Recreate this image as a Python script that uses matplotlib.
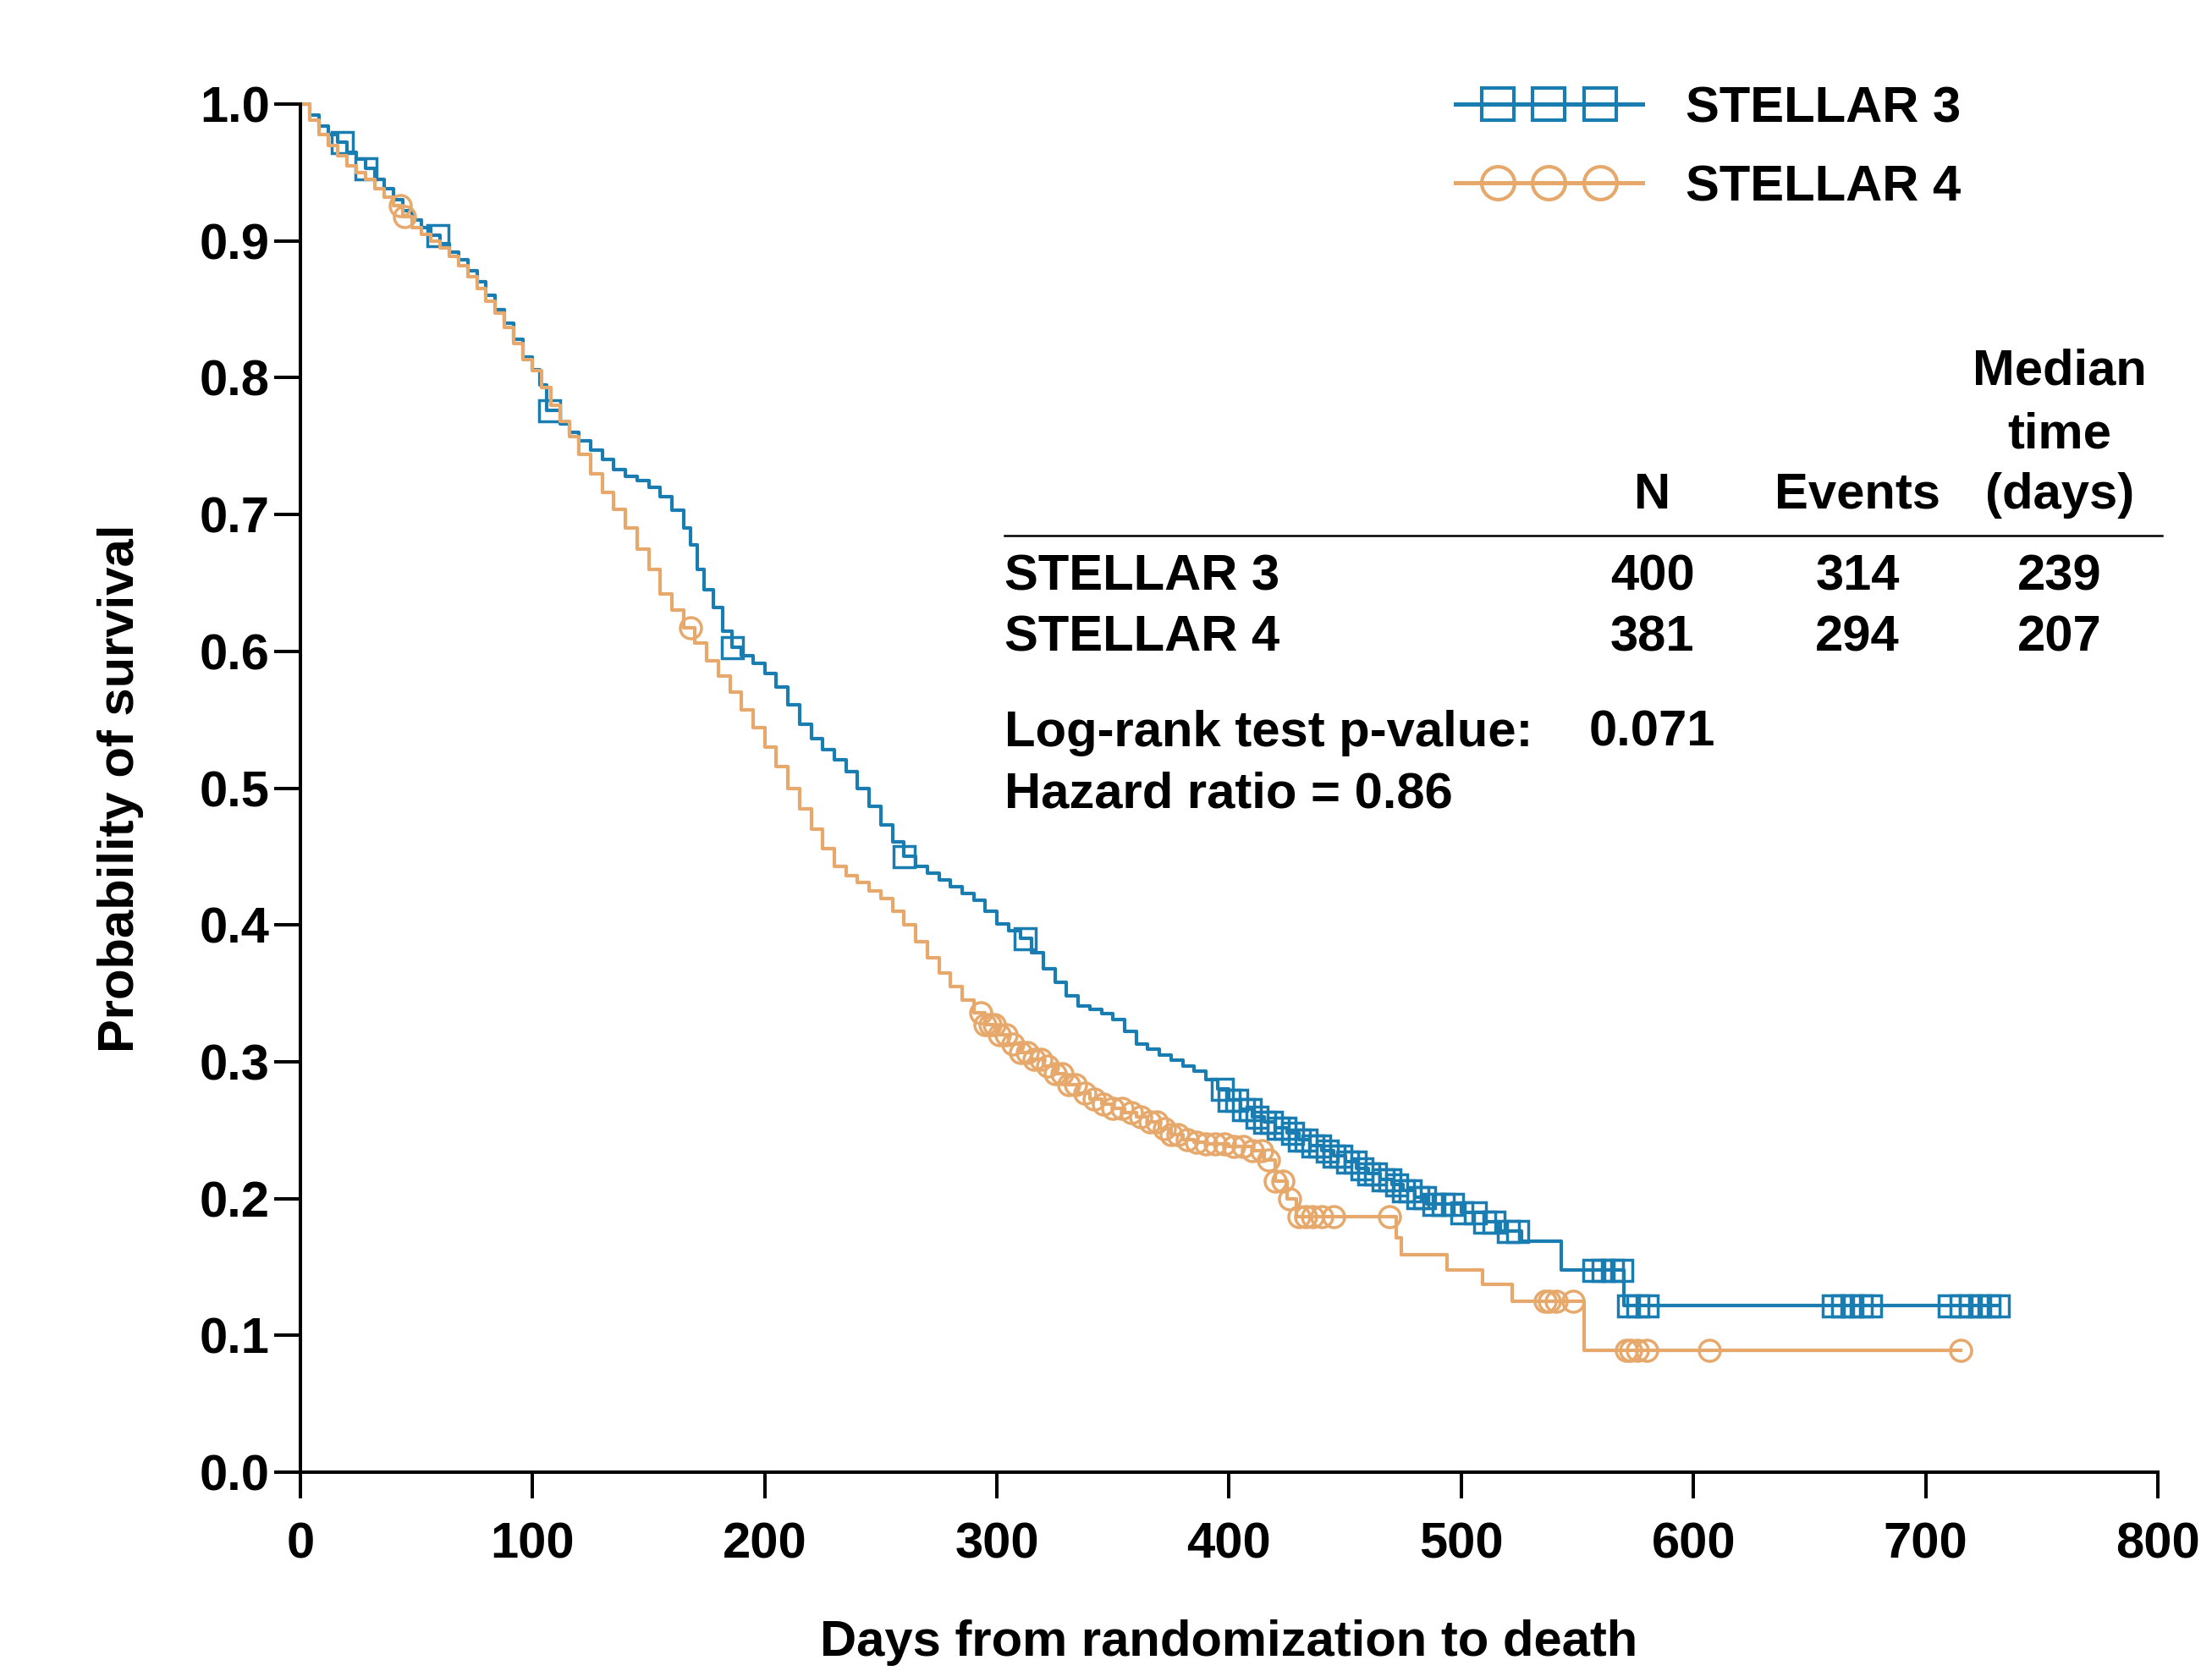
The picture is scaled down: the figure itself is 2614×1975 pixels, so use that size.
import numpy as np
import matplotlib
matplotlib.use("Agg")
import matplotlib.pyplot as plt
from matplotlib.lines import Line2D
from matplotlib.legend_handler import HandlerLine2D, HandlerTuple

plt.rcParams['font.family'] = ['Liberation Sans', 'DejaVu Sans']
plt.rcParams['font.weight'] = 'bold'
plt.rcParams['axes.labelweight'] = 'bold'

# groups and colours
groups = ["STELLAR 3", "STELLAR 4"]
colors = ["#1a7db2", "#e6a86b"]
markers = ["s", "o"]

# Kaplan-Meier steps (days, survival)
s3_days = [0, 4, 8, 12, 16, 20, 24, 28, 32, 36,
           40, 44, 48, 52, 56, 60, 64, 68, 72, 76,
           80, 84, 88, 92, 96, 100, 103, 106, 112, 116,
           120, 125, 130, 135, 140, 145, 150, 155, 160, 165,
           168, 171, 174, 178, 182, 186, 190, 195, 200, 205,
           210, 215, 220, 225, 230, 235, 240, 245, 250, 255,
           260, 265, 270, 275, 280, 285, 290, 295, 300, 305,
           310, 315, 320, 325, 330, 335, 340, 345, 350, 355,
           360, 365, 370, 375, 380, 385, 390, 395, 400, 405,
           410, 415, 420, 425, 430, 435, 440, 445, 450, 455,
           460, 465, 470, 475, 480, 485, 500, 510, 517, 526,
           543, 570]
s3_surv = [1.0, 0.992, 0.984, 0.978, 0.972, 0.965, 0.960, 0.953, 0.945, 0.938,
           0.930, 0.922, 0.915, 0.910, 0.904, 0.898, 0.892, 0.886, 0.878, 0.870,
           0.860, 0.850, 0.840, 0.828, 0.815, 0.806, 0.795, 0.776, 0.766, 0.760,
           0.754, 0.747, 0.740, 0.733, 0.728, 0.725, 0.720, 0.713, 0.703, 0.690,
           0.678, 0.660, 0.645, 0.632, 0.615, 0.603, 0.597, 0.591, 0.584, 0.574,
           0.561, 0.547, 0.536, 0.528, 0.521, 0.512, 0.500, 0.487, 0.473, 0.461,
           0.450, 0.443, 0.438, 0.433, 0.428, 0.423, 0.418, 0.410, 0.401, 0.396,
           0.390, 0.380, 0.368, 0.358, 0.348, 0.341, 0.338, 0.335, 0.331, 0.322,
           0.313, 0.309, 0.305, 0.301, 0.297, 0.293, 0.287, 0.280, 0.272, 0.265,
           0.260, 0.256, 0.252, 0.248, 0.243, 0.239, 0.235, 0.231, 0.227, 0.222,
           0.218, 0.214, 0.210, 0.206, 0.201, 0.196, 0.190, 0.183, 0.176, 0.169,
           0.148, 0.122]
s3_end = 731
s3_censor = [18, 28, 59, 107, 186, 260, 312,
             397, 400, 403, 406, 409, 412, 415, 418, 421, 424, 427, 430, 433,
             436, 439, 442, 445, 448, 451, 454, 457, 460, 463, 466, 469, 472,
             475, 478, 481, 484, 488, 492, 496, 500, 506, 510, 514, 520, 524,
             557, 561, 565, 569, 572, 576, 580,
             660, 664, 668, 672, 676, 710, 715, 719, 723, 727, 731]

s4_days = [0, 4, 8, 12, 16, 20, 24, 28, 32, 36,
           40, 44, 48, 52, 56, 60, 64, 68, 72, 76,
           80, 84, 88, 92, 96, 100, 104, 108, 112, 116,
           120, 125, 130, 135, 140, 145, 150, 155, 160, 165,
           170, 175, 180, 185, 190, 195, 200, 205, 210, 215,
           220, 225, 230, 235, 240, 245, 250, 255, 260, 265,
           270, 275, 280, 285, 290, 295, 300, 305, 310, 315,
           320, 325, 330, 335, 340, 345, 350, 355, 360, 365,
           370, 375, 380, 385, 390, 400, 410, 415, 420, 425,
           429, 472, 474, 494, 509, 522, 553]
s4_surv = [1.0, 0.988, 0.978, 0.970, 0.962, 0.955, 0.950, 0.945, 0.938, 0.932,
           0.926, 0.918, 0.910, 0.905, 0.900, 0.895, 0.889, 0.882, 0.874, 0.865,
           0.856, 0.847, 0.837, 0.825, 0.813, 0.805, 0.793, 0.780, 0.768, 0.757,
           0.744, 0.730, 0.716, 0.704, 0.690, 0.675, 0.660, 0.642, 0.630, 0.617,
           0.606, 0.593, 0.582, 0.570, 0.557, 0.544, 0.530, 0.516, 0.500, 0.485,
           0.470, 0.456, 0.443, 0.436, 0.431, 0.425, 0.419, 0.410, 0.400, 0.388,
           0.376, 0.365, 0.355, 0.345, 0.336, 0.327, 0.320, 0.313, 0.307, 0.302,
           0.297, 0.291, 0.283, 0.277, 0.273, 0.269, 0.266, 0.263, 0.260, 0.256,
           0.251, 0.247, 0.243, 0.241, 0.240, 0.238, 0.235, 0.228, 0.213, 0.200,
           0.187, 0.171, 0.159, 0.148, 0.137, 0.125, 0.089]
s4_end = 715
s4_censor = [43, 45, 168,
             293, 295, 297, 299, 301, 304, 307, 310, 313, 316, 319, 322, 325,
             328, 331, 334, 338, 342, 346, 350, 354, 358, 362, 366, 369, 372,
             375, 378, 382, 386, 390, 394, 398, 402, 406, 410, 414, 417, 420,
             423, 426, 430, 433, 436, 440, 445, 469,
             536, 538, 541, 548, 571, 573, 576, 580, 607, 715]

# summary table
n_pts = [400, 381]
events = [314, 294]
median_days = [239, 207]
p_value = "0.071"
hazard_ratio = "0.86"

xticks = list(range(0, 801, 100))
yticks = [i / 10 for i in range(11)]


def surv_at(days, surv, t):
    idx = np.searchsorted(days, t, side='right') - 1
    return np.asarray(surv)[idx]


fig = plt.figure(figsize=(26.14, 19.75), dpi=100)
ax = fig.add_axes([0.1358, 0.1190, 0.8397, 0.8187])

curves = [(s3_days, s3_surv, s3_end, s3_censor),
          (s4_days, s4_surv, s4_end, s4_censor)]

handles = []
hmap = {}
for (days, surv, end, cens), col, mk in zip(curves, colors, markers):
    ax.step(np.append(days, end), np.append(surv, surv[-1]), where='post',
            color=col, lw=3.0, clip_on=False)
    ax.plot(cens, surv_at(days, surv, cens), ls='none', marker=mk, ms=18,
            mfc='none', mec=col, mew=2.5, clip_on=False)
    # legend proxy: full line plus three markers
    ln = Line2D([], [], color=col, lw=3.6)
    mm = Line2D([], [], ls='none', marker=mk, ms=28, mfc='none', mec=col, mew=3.0)
    hmap[ln] = HandlerLine2D(marker_pad=0, numpoints=3)
    hmap[mm] = HandlerLine2D(marker_pad=0.83, numpoints=3)
    handles.append((ln, mm))

hmap[tuple] = HandlerTuple(ndivide=1, pad=0)
ax.legend(handles, groups, handler_map=hmap, loc='upper left',
          bbox_to_anchor=(0.658, 0.9488), bbox_transform=fig.transFigure,
          frameon=False, fontsize=43, borderpad=0, borderaxespad=0,
          handlelength=3.7, handletextpad=0.85, labelspacing=0.64)

ax.set_xlim(0, 800)
ax.set_ylim(0, 1.0)
ax.set_xticks(xticks)
ax.set_yticks(yticks)
ax.set_yticklabels([f"{v:.1f}" for v in yticks])
ax.spines['top'].set_visible(False)
ax.spines['right'].set_visible(False)
for s in ('left', 'bottom'):
    ax.spines[s].set_linewidth(2.9)
ax.tick_params(axis='both', labelsize=43, width=2.9, length=22, direction='out')
ax.tick_params(axis='x', pad=20)
ax.tick_params(axis='y', pad=4)

ax.set_xlabel("Days from randomization to death", fontsize=43, fontweight='bold')
ax.xaxis.label.set_va('center')
ax.xaxis.set_label_coords(0.5, -0.1245)
ax.set_ylabel("Probability of survival", fontsize=43, fontweight='bold')
ax.yaxis.label.set_va('center')
ax.yaxis.set_label_coords(-0.097, 0.5)

# summary table in figure coordinates
col_x = [0.7471, 0.8397, 0.9311]
fs = 43
fig.text(col_x[2], 0.7775, "Median", ha='center', va='center', fontsize=fs)
fig.text(col_x[2], 0.7396, "time", ha='center', va='center', fontsize=fs)
fig.text(col_x[2], 0.7036, "(days)", ha='center', va='center', fontsize=fs)
fig.text(col_x[0], 0.7036, "N", ha='center', va='center', fontsize=fs)
fig.text(col_x[1], 0.7036, "Events", ha='center', va='center', fontsize=fs)
fig.add_artist(Line2D([0.4541, 0.9774], [0.6795, 0.6795], color='black', lw=1.8,
                      transform=fig.transFigure))
row_y = [0.6548, 0.6180]
for i, g in enumerate(groups):
    fig.text(0.4541, row_y[i], g, ha='left', va='center', fontsize=fs)
    for cx, val in zip(col_x, [n_pts[i], events[i], median_days[i]]):
        fig.text(cx, row_y[i], str(val), ha='center', va='center', fontsize=fs)
fig.text(0.4541, 0.5615, "Log-rank test p-value:", ha='left', va='center', fontsize=fs)
fig.text(0.7184, 0.5615, p_value, ha='left', va='center', fontsize=fs)
fig.text(0.4541, 0.5246, f"Hazard ratio = {hazard_ratio}", ha='left', va='center', fontsize=fs)

fig.savefig("out.png", dpi=100)
